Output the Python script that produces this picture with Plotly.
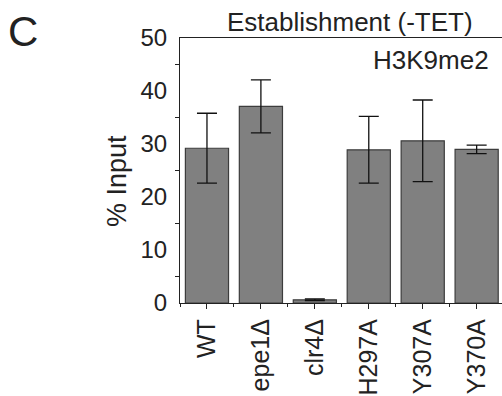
import plotly.graph_objects as go

categories = ["WT", "epe1Δ", "clr4Δ", "H297A", "Y307A", "Y370A"]
means = [29.2, 37.1, 0.6, 28.9, 30.6, 29.0]
errors = [6.6, 5.0, 0.15, 6.3, 7.7, 0.8]
y_ticks = [0, 10, 20, 30, 40, 50]

W, H = 502, 396
ML, MR, MT, MB = 180, 0, 38, 93
PW, PH = W - ML - MR, H - MT - MB


def px(x):
    return (x - ML) / PW


def py(y):
    return (H - MB - y) / PH


font_family = "Liberation Sans, Arial, sans-serif"
txt = "#222222"

fig = go.Figure()
fig.add_trace(go.Bar(
    x=list(range(len(categories))),
    y=means,
    width=0.8,
    marker=dict(color="#808080", line=dict(color="#3c3c3c", width=1.2)),
    error_y=dict(type="data", array=errors, visible=True, color="#111111",
                 thickness=1.3, width=10),
    showlegend=False,
))

fig.update_layout(
    width=W, height=H,
    margin=dict(l=ML, r=MR, t=MT, b=MB, pad=0),
    paper_bgcolor="white", plot_bgcolor="white",
    font=dict(family=font_family, color=txt),
    bargap=0.2,
)

fig.update_xaxes(
    range=[-0.5, 5.47],
    tickmode="array",
    tickvals=list(range(len(categories))),
    ticktext=categories,
    tickangle=-90,
    tickfont=dict(size=25, color=txt),
    ticks="outside", ticklen=5, tickwidth=1, tickcolor="#222",
    minor=dict(tick0=0.5, dtick=1, ticks="outside", ticklen=2.5,
               tickwidth=1, tickcolor="#222"),
    showline=True, linecolor="#222", linewidth=1.2, mirror=True,
    showgrid=False, zeroline=False, automargin=False,
)

fig.update_yaxes(
    range=[0, 50],
    tickmode="array",
    tickvals=y_ticks,
    ticks="",
    tickfont=dict(size=24, color=txt),
    ticklabelstandoff=7,
    minor=dict(tick0=5, dtick=10, ticks="outside", ticklen=4,
               tickwidth=1, tickcolor="#222"),
    showline=True, linecolor="#222", linewidth=1.2, mirror=False,
    showgrid=False, zeroline=False, automargin=False,
)

annos = [
    dict(text="Establishment (-TET)", x=px(350), y=py(22), size=26,
         xanchor="center", yanchor="middle", angle=0),
    dict(text="H3K9me2", x=px(491), y=py(60), size=26,
         xanchor="right", yanchor="middle", angle=0),
    dict(text="C", x=px(23), y=py(31), size=42,
         xanchor="center", yanchor="middle", angle=0),
    dict(text="% Input", x=px(117), y=py(181), size=27,
         xanchor="center", yanchor="middle", angle=-90),
]
for a in annos:
    fig.add_annotation(
        text=a["text"], x=a["x"], y=a["y"], xref="paper", yref="paper",
        xanchor=a["xanchor"], yanchor=a["yanchor"], textangle=a["angle"],
        showarrow=False, font=dict(size=a["size"], color=txt, family=font_family),
    )

fig.write_html("out.html",
               config={"displayModeBar": False},
               post_script="document.body.style.margin='0px';document.body.style.overflow='hidden';")
